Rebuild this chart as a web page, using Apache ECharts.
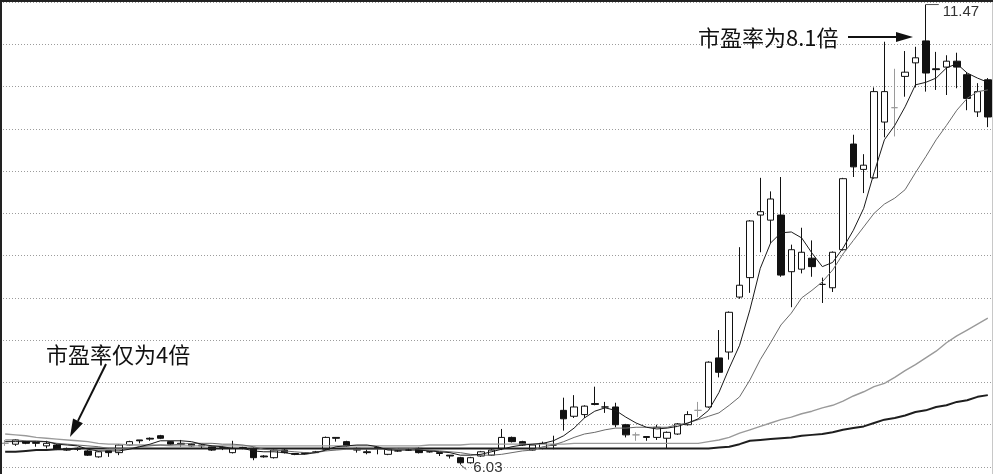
<!DOCTYPE html>
<html>
<head>
<meta charset="utf-8">
<script src="https://cdn.jsdelivr.net/npm/echarts@6/dist/echarts.min.js"></script>
<style>
  html, body { margin: 0; padding: 0; background: #fff; }
  #chart { width: 993px; height: 474px; }
</style>
</head>
<body>
<div id="chart"></div>
<script>
// Daily prices (open / close / low / high), one entry per trading day
const opens = [
  6.28, 6.27, 6.30, 6.29, 6.25, 6.26, 6.20, 6.22, 6.19, 6.12,
  6.19, 6.17, 6.26, 6.32, 6.34, 6.37, 6.30, 6.27, 6.27, 6.26,
  6.24, 6.22, 6.17, 6.23, 6.22, 6.13, 6.11, 6.20, 6.16, 6.17,
  6.17, 6.21, 6.35, 6.30, 6.22, 6.18, 6.23, 6.15, 6.19, 6.20,
  6.22, 6.18, 6.17, 6.14, 6.11, 6.05, 6.13, 6.14, 6.22, 6.35,
  6.30, 6.20, 6.22, 6.26, 6.67, 6.60, 6.62, 6.75, 6.71, 6.71,
  6.50, 6.38, 6.36, 6.35, 6.34, 6.39, 6.50, 6.67, 6.71, 7.29,
  7.36, 8.01, 8.24, 8.98, 8.92, 8.98, 8.31, 8.34, 8.47, 8.16,
  8.12, 8.57, 9.82, 9.52, 9.42, 10.08, 10.25, 10.62, 10.78, 11.04,
  10.71, 10.73, 10.80, 10.64, 10.20, 10.58
];
const closes = [
  6.28, 6.32, 6.28, 6.28, 6.28, 6.21, 6.22, 6.21, 6.14, 6.18,
  6.17, 6.26, 6.30, 6.31, 6.33, 6.34, 6.27, 6.28, 6.25, 6.25,
  6.20, 6.23, 6.22, 6.22, 6.11, 6.12, 6.20, 6.17, 6.15, 6.16,
  6.18, 6.35, 6.34, 6.25, 6.20, 6.17, 6.22, 6.21, 6.19, 6.20,
  6.17, 6.18, 6.16, 6.13, 6.05, 6.11, 6.18, 6.20, 6.35, 6.30,
  6.26, 6.26, 6.28, 6.26, 6.57, 6.71, 6.72, 6.74, 6.71, 6.50,
  6.38, 6.38, 6.35, 6.47, 6.41, 6.51, 6.62, 6.67, 7.24, 7.12,
  7.83, 8.15, 8.91, 9.02, 9.17, 8.27, 8.57, 8.54, 8.37, 8.16,
  8.54, 9.41, 9.55, 9.57, 10.44, 10.44, 10.25, 10.67, 10.84, 10.66,
  10.70, 10.80, 10.73, 10.36, 10.44, 10.14
];
const lows = [
  6.25, 6.25, 6.27, 6.24, 6.22, 6.20, 6.19, 6.19, 6.13, 6.11,
  6.12, 6.14, 6.25, 6.28, 6.31, 6.33, 6.26, 6.24, 6.24, 6.22,
  6.19, 6.20, 6.16, 6.21, 6.08, 6.11, 6.10, 6.16, 6.14, 6.15,
  6.17, 6.20, 6.30, 6.24, 6.17, 6.15, 6.15, 6.14, 6.18, 6.19,
  6.16, 6.17, 6.13, 6.10, 6.03, 6.04, 6.12, 6.13, 6.20, 6.29,
  6.25, 6.19, 6.21, 6.21, 6.43, 6.58, 6.58, 6.73, 6.64, 6.47,
  6.35, 6.31, 6.31, 6.32, 6.22, 6.38, 6.49, 6.59, 6.70, 7.06,
  7.27, 7.99, 8.06, 8.54, 8.65, 8.25, 7.89, 8.29, 8.25, 7.94,
  8.07, 8.56, 9.43, 9.24, 9.41, 9.90, 9.91, 10.38, 10.49, 10.44,
  10.46, 10.40, 10.48, 10.22, 10.14, 10.02
];
const highs = [
  6.32, 6.33, 6.31, 6.29, 6.31, 6.27, 6.23, 6.23, 6.20, 6.19,
  6.19, 6.27, 6.31, 6.32, 6.35, 6.38, 6.31, 6.32, 6.28, 6.27,
  6.25, 6.25, 6.31, 6.24, 6.23, 6.14, 6.21, 6.22, 6.16, 6.17,
  6.19, 6.36, 6.35, 6.31, 6.23, 6.22, 6.23, 6.22, 6.20, 6.21,
  6.23, 6.18, 6.17, 6.14, 6.12, 6.12, 6.19, 6.21, 6.45, 6.36,
  6.31, 6.27, 6.30, 6.37, 6.82, 6.85, 6.73, 6.95, 6.77, 6.76,
  6.51, 6.41, 6.36, 6.50, 6.42, 6.52, 6.66, 6.77, 7.25, 7.62,
  7.84, 8.60, 8.92, 9.42, 9.26, 9.43, 8.63, 8.83, 8.68, 8.24,
  8.55, 9.42, 9.93, 9.70, 10.49, 11.03, 10.71, 10.92, 10.97, 11.47,
  10.91, 10.87, 10.90, 10.67, 10.54, 10.60
];

// Moving averages as plotted by the trading software
const ma5 = [
  6.30, 6.30, 6.30, 6.30, 6.30, 6.27, 6.26, 6.25, 6.21, 6.19,
  6.19, 6.19, 6.21, 6.24, 6.27, 6.31, 6.31, 6.31, 6.30, 6.27,
  6.25, 6.24, 6.22, 6.22, 6.19, 6.18, 6.18, 6.17, 6.15, 6.15,
  6.17, 6.20, 6.24, 6.25, 6.26, 6.26, 6.24, 6.20, 6.20, 6.20,
  6.20, 6.19, 6.18, 6.17, 6.14, 6.14, 6.15, 6.18, 6.21, 6.24,
  6.26, 6.27, 6.28, 6.31, 6.37, 6.46, 6.58, 6.66, 6.70, 6.67,
  6.59, 6.52, 6.47, 6.45, 6.46, 6.48, 6.52, 6.57, 6.67, 6.88,
  7.17, 7.44, 7.86, 8.35, 8.65, 8.77, 8.78, 8.71, 8.53, 8.37,
  8.42, 8.59, 8.80, 9.06, 9.48, 9.87, 10.04, 10.26, 10.52, 10.55,
  10.60, 10.72, 10.77, 10.66, 10.60, 10.55
];
const ma10 = [
  6.32, 6.32, 6.31, 6.31, 6.30, 6.28, 6.27, 6.26, 6.25, 6.24,
  6.22, 6.22, 6.22, 6.24, 6.25, 6.26, 6.26, 6.27, 6.28, 6.28,
  6.28, 6.27, 6.27, 6.26, 6.24, 6.21, 6.20, 6.19, 6.18, 6.17,
  6.17, 6.19, 6.20, 6.21, 6.21, 6.21, 6.21, 6.21, 6.22, 6.22,
  6.21, 6.20, 6.19, 6.18, 6.17, 6.15, 6.14, 6.14, 6.15, 6.17,
  6.19, 6.20, 6.24, 6.26, 6.30, 6.35, 6.39, 6.41, 6.44, 6.46,
  6.46, 6.47, 6.47, 6.47, 6.47, 6.50, 6.52, 6.56, 6.60, 6.64,
  6.73, 6.83, 7.03, 7.27, 7.47, 7.68, 7.82, 8.00, 8.09, 8.19,
  8.33, 8.52, 8.68, 8.84, 9.00, 9.11, 9.18, 9.28, 9.48, 9.67,
  9.87, 10.04, 10.22, 10.36, 10.44, 10.46
];
const ma30 = [
  6.39, 6.38, 6.37, 6.35, 6.34, 6.33, 6.32, 6.31, 6.30, 6.28,
  6.27, 6.27, 6.26, 6.26, 6.26, 6.26, 6.25, 6.25, 6.25, 6.25,
  6.25, 6.25, 6.25, 6.25, 6.25, 6.25, 6.25, 6.25, 6.25, 6.25,
  6.25, 6.25, 6.25, 6.25, 6.25, 6.25, 6.25, 6.25, 6.25, 6.25,
  6.25, 6.26, 6.26, 6.26, 6.26, 6.27, 6.27, 6.27, 6.27, 6.27,
  6.27, 6.27, 6.27, 6.27, 6.27, 6.28, 6.28, 6.28, 6.28, 6.28,
  6.28, 6.28, 6.28, 6.28, 6.28, 6.28, 6.28, 6.28, 6.30, 6.32,
  6.35, 6.40, 6.44, 6.48, 6.52, 6.56, 6.59, 6.63, 6.66, 6.70,
  6.73, 6.78, 6.84, 6.89, 6.95, 6.99, 7.06, 7.14, 7.21, 7.29,
  7.37, 7.47, 7.55, 7.62, 7.69, 7.76
];
const ma60 = [
  6.18, 6.18, 6.19, 6.20, 6.20, 6.21, 6.21, 6.22, 6.22, 6.22,
  6.22, 6.22, 6.22, 6.22, 6.22, 6.22, 6.22, 6.22, 6.22, 6.22,
  6.22, 6.22, 6.22, 6.22, 6.22, 6.22, 6.22, 6.22, 6.22, 6.22,
  6.22, 6.22, 6.22, 6.22, 6.22, 6.22, 6.22, 6.22, 6.22, 6.22,
  6.22, 6.22, 6.22, 6.22, 6.22, 6.22, 6.22, 6.22, 6.22, 6.22,
  6.22, 6.22, 6.22, 6.22, 6.22, 6.22, 6.22, 6.22, 6.22, 6.22,
  6.22, 6.22, 6.22, 6.22, 6.22, 6.22, 6.22, 6.22, 6.22, 6.23,
  6.24, 6.27, 6.31, 6.32, 6.33, 6.34, 6.35, 6.37, 6.38, 6.39,
  6.41, 6.44, 6.46, 6.48, 6.52, 6.56, 6.58, 6.61, 6.65, 6.67,
  6.71, 6.73, 6.77, 6.79, 6.83, 6.85
];

// Days drawn as grey crosses
const greyDoji = [0, 61, 67, 86];
// Price-axis range and grid step
const priceMin = 6.0;
const priceMax = 11.5;
const priceStep = 0.5;
// Annotation texts and the days they refer to
const noteLow = '市盈率仅为4倍';
const noteHigh = '市盈率为8.1倍';
const peakDay = 89;
const troughDay = 44;

const days = closes.map((_, i) => 'D' + (i + 1));

const candles = opens.map((o, i) => {
  const item = { value: [o, closes[i], lows[i], highs[i]] };
  if (greyDoji.includes(i)) {
    item.itemStyle = {
      color: '#fff', color0: '#fff',
      borderColor: '#9a9a9a', borderColor0: '#9a9a9a', borderColorDoji: '#9a9a9a'
    };
  }
  return item;
});

const chart = echarts.init(document.getElementById('chart'), null, { renderer: 'canvas' });

const maLine = (name, data, color, width) => ({
  name, type: 'line', data,
  showSymbol: false, symbol: 'none', smooth: false,
  lineStyle: { color, width }, silent: true, z: 3
});

chart.setOption({
  animation: false,
  backgroundColor: '#fff',
  grid: { left: -2, top: 2, width: 1001, height: 465, containLabel: false },
  xAxis: {
    type: 'category', data: days, boundaryGap: true,
    axisLine: { show: false }, axisTick: { show: false }, axisLabel: { show: false },
    splitLine: { show: false }
  },
  yAxis: {
    type: 'value', min: priceMin, max: priceMax, interval: priceStep, scale: true,
    axisLine: { show: false }, axisTick: { show: false }, axisLabel: { show: false },
    splitLine: { show: true, lineStyle: { color: '#9c9c9c', width: 1, type: [1, 2] } }
  },
  series: [
    {
      name: 'K', type: 'candlestick', data: candles, barWidth: 7, z: 2,
      itemStyle: {
        color: '#fff', color0: '#111',
        borderColor: '#111', borderColor0: '#111', borderColorDoji: '#111',
        borderWidth: 1
      }
    },
    maLine('MA60', ma60, '#1e1e1e', 2),
    maLine('MA30', ma30, '#9a9a9a', 1.4),
    maLine('MA10', ma10, '#6a6a6a', 1),
    maLine('MA5', ma5, '#1a1a1a', 1)
  ]
});

// Annotations: arrows, notes, extreme price tags
function arrow(x1, y1, x2, y2, head, half) {
  const dx = x2 - x1, dy = y2 - y1;
  const len = Math.hypot(dx, dy);
  const ux = dx / len, uy = dy / len;
  const bx = x2 - ux * head, by = y2 - uy * head;
  const px = -uy, py = ux;
  return [
    { type: 'line', shape: { x1, y1, x2: bx, y2: by }, style: { stroke: '#111', lineWidth: 2 }, z: 10 },
    { type: 'polygon', shape: { points: [[x2, y2], [bx + px * half, by + py * half], [bx - px * half, by - py * half]] },
      style: { fill: '#111' }, z: 10 }
  ];
}

const toPx = (i, v) => chart.convertToPixel({ gridIndex: 0 }, [days[i], v]);
const [hx, hy] = toPx(peakDay, highs[peakDay]);
const [lx, ly] = toPx(troughDay, lows[troughDay]);

const cjk = '"Noto Sans CJK SC", "Noto Sans", sans-serif';
const graphics = [
  // frame
  { type: 'line', shape: { x1: 1, y1: 0, x2: 1, y2: 474 }, style: { stroke: '#222', lineWidth: 2 }, z: 20 },
  { type: 'line', shape: { x1: 0, y1: 1, x2: 993, y2: 1 }, style: { stroke: '#222', lineWidth: 2 }, z: 20 },
  { type: 'line', shape: { x1: 992.5, y1: 0, x2: 992.5, y2: 474 }, style: { stroke: '#c8c8c8', lineWidth: 1 }, z: 1 },
  // notes
  { type: 'text', x: 46, y: 355, style: { text: noteLow, font: '22px ' + cjk, fill: '#111', textVerticalAlign: 'middle', verticalAlign: 'middle' }, z: 10 },
  { type: 'text', x: 698, y: 38, style: { text: noteHigh, font: '22px ' + cjk, fill: '#111', textVerticalAlign: 'middle', verticalAlign: 'middle' }, z: 10 },
  ...arrow(106, 364, 70, 437, 18, 5.5),
  ...arrow(848, 37, 913, 37, 17, 5),
  // highest price tag
  { type: 'line', shape: { x1: hx, y1: hy, x2: hx + 13, y2: hy }, style: { stroke: '#555', lineWidth: 1 }, z: 10 },
  { type: 'text', x: hx + 17, y: hy + 7, style: { text: highs[peakDay].toFixed(2), font: '15px "Liberation Sans", Arial, sans-serif', fill: '#333', verticalAlign: 'middle', textVerticalAlign: 'middle' }, z: 10 },
  // lowest price tag
  { type: 'line', shape: { x1: lx, y1: ly, x2: lx + 6, y2: ly + 5 }, style: { stroke: '#555', lineWidth: 1 }, z: 10 },
  { type: 'text', x: lx + 13, y: ly + 3.5, style: { text: lows[troughDay].toFixed(2), font: '15px "Liberation Sans", Arial, sans-serif', fill: '#333', verticalAlign: 'middle', textVerticalAlign: 'middle' }, z: 10 }
];

chart.setOption({ graphic: graphics });
</script>
</body>
</html>
